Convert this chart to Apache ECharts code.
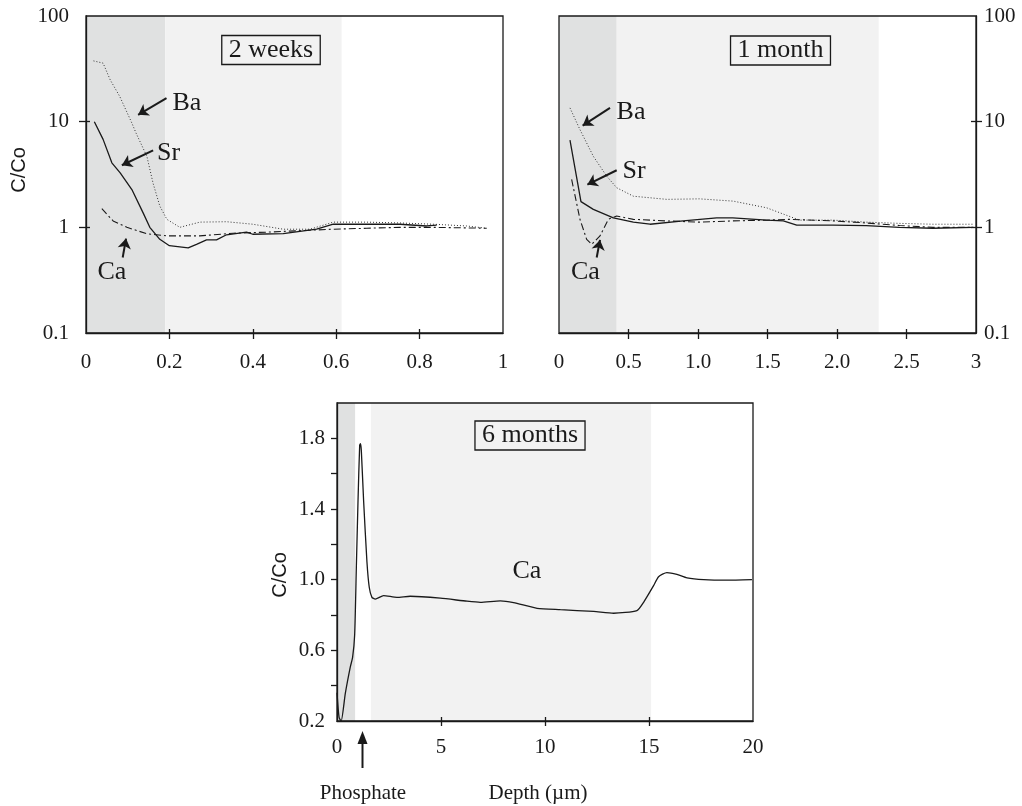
<!DOCTYPE html>
<html><head><meta charset="utf-8">
<script src="https://cdn.jsdelivr.net/npm/echarts@6/dist/echarts.min.js"></script>
<style>html,body{margin:0;padding:0;background:#fff}#c{width:1022px;height:806px}</style>
</head><body><div id="c"></div>
<script>
// ---------- data ----------
// 2 weeks (depth in µm, C/Co)
const ba2wX = [0.018,0.041,0.058,0.081,0.11,0.12,0.146,0.161,0.177,0.194,0.225,0.273,0.337,0.40,0.473,0.537,0.593,0.673,0.753,0.833,0.913,0.961];
const ba2wY = [37.6,35.8,24.9,17.3,9.7,7.8,4.7,2.6,1.59,1.19,1.0,1.12,1.13,1.07,0.96,0.96,1.12,1.12,1.1,1.07,1.03,0.98];
const sr2wX = [0.02,0.041,0.062,0.082,0.11,0.137,0.153,0.177,0.2,0.245,0.265,0.289,0.313,0.337,0.385,0.40,0.473,0.553,0.593,0.673,0.753,0.817,0.841];
const sr2wY = [10,6.8,4.08,3.28,2.28,1.37,1.0,0.77,0.67,0.64,0.69,0.76,0.76,0.85,0.9,0.86,0.87,0.96,1.07,1.07,1.07,1.03,1.05];
const ca2wX = [0.038,0.065,0.098,0.146,0.194,0.273,0.353,0.433,0.513,0.593,0.673,0.753,0.833,0.961];
const ca2wY = [1.5,1.15,1.0,0.87,0.83,0.83,0.88,0.9,0.93,0.96,0.98,1.0,1.0,0.98];
// 1 month
const ba1mX = [0.079,0.151,0.247,0.343,0.415,0.535,0.775,1.01,1.254,1.494,1.686,1.73,1.973,2.21,2.45,2.69,2.98];
const ba1mY = [13.5,8.4,4.7,3.05,2.37,1.97,1.84,1.86,1.77,1.53,1.23,1.17,1.17,1.12,1.09,1.07,1.07];
const sr1mX = [0.079,0.158,0.247,0.391,0.535,0.655,0.894,1.134,1.25,1.494,1.614,1.71,1.97,2.21,2.45,2.69,2.98];
const sr1mY = [6.7,1.75,1.48,1.23,1.12,1.07,1.15,1.23,1.23,1.17,1.15,1.05,1.05,1.04,1.0,0.98,1.0];
const ca1mX = [0.091,0.151,0.199,0.235,0.295,0.355,0.415,0.535,0.775,1.01,1.25,1.494,1.66,1.973,2.21,2.45,2.69,2.98];
const ca1mY = [2.84,1.19,0.77,0.69,0.83,1.19,1.28,1.19,1.15,1.12,1.15,1.17,1.19,1.15,1.1,1.04,1.0,1.0];
// 6 months (Ca)
const ca6mX = [0,0.1,0.2,0.4,0.64,0.75,0.85,0.93,1.01,1.09,1.13,1.17,1.28,1.44,1.55,1.68,1.84,2.24,2.88,3.52,4.97,6.25,6.89,7.85,8.49,9.62,10.74,12.34,13.3,14.42,14.74,15.22,15.46,15.86,16.34,16.83,17.63,18.75,19.95];
const ca6mY = [0.36,0.22,0.2,0.356,0.506,0.56,0.69,1.07,1.445,1.76,1.77,1.73,1.445,1.1,0.957,0.9,0.89,0.91,0.9,0.906,0.895,0.878,0.872,0.88,0.87,0.838,0.83,0.82,0.81,0.825,0.872,0.966,1.017,1.04,1.03,1.01,1.0,0.997,1.0];
// shaded zones [from, to]
const zone2wDark = [0, 0.19], zone2wLight = [0.19, 0.613];
const zone1mDark = [0, 0.415], zone1mLight = [0.415, 2.30];
const zone6mDark = [0, 0.87], zone6mLight = [1.63, 15.1];
// panel titles
const titles = ['2 weeks', '1 month', '6 months'];
// interior tick positions (no ticks at the frame corners)
const ticks2wX = [0.2, 0.4, 0.6, 0.8];
const ticks1mX = [0.5, 1.0, 1.5, 2.0, 2.5];
const ticks6mX = [5, 10, 15];
const ticksLogY = [1, 10];
const ticks6mY = [0.4, 0.6, 0.8, 1.0, 1.2, 1.4, 1.6, 1.8];

// ---------- layout / style ----------
const SERIF = '"Liberation Serif","Times New Roman",serif';
const SANS = '"Liberation Sans",Arial,sans-serif';
const INK = '#1a1a1a';
const DARK = '#e0e1e1', LIGHT = '#f2f2f2';
const FS = 21;
const G = [
  {left: 86, top: 16, width: 417, height: 317},
  {left: 559, top: 16, width: 417, height: 317},
  {left: 337, top: 403, width: 416, height: 318}
];
const pts = (xs, ys) => xs.map((x, i) => [x, ys[i]]);

function axisPair(gi, base, tickVals, outLen, inLen, margin, position) {
  const common = Object.assign({gridIndex: gi, position: position, splitLine: {show: false}, z: 10}, base);
  const main = Object.assign({}, common, {
    axisLine: {show: true, onZero: false, lineStyle: {color: INK, width: 1.3}},
    axisTick: {show: true, inside: false, length: outLen, customValues: tickVals, lineStyle: {color: INK, width: 1.3}},
    axisLabel: Object.assign({show: true, margin: margin, color: INK, fontFamily: SERIF, fontSize: FS}, base.axisLabel || {})
  });
  const res = [main];
  if (inLen > 0) {
    res.push(Object.assign({}, common, {
      axisLine: {show: false, onZero: false},
      axisTick: {show: true, inside: true, length: inLen, customValues: tickVals, lineStyle: {color: INK, width: 1.3}},
      axisLabel: {show: false}
    }));
  }
  return res;
}
const logBase = {type: 'log', logBase: 10, min: 0.1, max: 100,
  axisLabel: {formatter: v => String(+(+v).toPrecision(3))}};

const xAxes = [].concat(
  axisPair(0, {type: 'value', min: 0, max: 1, interval: 0.2,
    axisLabel: {formatter: v => String(+v.toFixed(1))}}, ticks2wX, 6, 4, 19, 'bottom'),
  axisPair(1, {type: 'value', min: 0, max: 3, interval: 0.5,
    axisLabel: {formatter: v => (v === 0 || v === 3) ? String(v) : v.toFixed(1)}}, ticks1mX, 6, 4, 19, 'bottom'),
  axisPair(2, {type: 'value', min: 0, max: 20, interval: 5,
    axisLabel: {formatter: v => String(v)}}, ticks6mX, 5, 4, 16, 'bottom')
);
// indices: grid0 -> 0,1 ; grid1 -> 2,3 ; grid2 -> 4,5
const yAxes = [].concat(
  axisPair(0, logBase, ticksLogY, 7, 4, 17, 'left'),
  axisPair(1, logBase, ticksLogY, 6, 5, 8, 'right'),
  axisPair(2, {type: 'value', min: 0.2, max: 2.0, interval: 0.2,
    axisLabel: {formatter: v => (Math.round(v * 10) % 4 === 2) ? v.toFixed(1) : ''}}, ticks6mY, 6, 0, 12, 'left')
);
// indices: grid0 -> 0,1 ; grid1 -> 2,3 ; grid2 -> 4

const DOT = {color: '#333', width: 1, type: [1, 2]};
const SOLID = {color: INK, width: 1.3, type: 'solid'};
const DASHDOT = {color: INK, width: 1.1, type: [7, 3, 2, 3]};

function zones(dark, light) {
  return {silent: true, data: [
    [{xAxis: dark[0], itemStyle: {color: DARK}}, {xAxis: dark[1]}],
    [{xAxis: light[0], itemStyle: {color: LIGHT}}, {xAxis: light[1]}]
  ]};
}
function labelPt(name, x, y) {
  return {name: name, coord: [x, y], symbol: 'circle', symbolSize: 1,
    itemStyle: {color: 'rgba(0,0,0,0)'},
    label: {show: true, position: 'inside', formatter: name, fontFamily: SERIF, fontSize: 26, color: INK}};
}
function marks(labels, arrows) {
  return {
    markPoint: {silent: true, animation: false, data: labels},
    markLine: {silent: true, animation: false, symbol: ['none', 'arrow'], symbolSize: 10,
      label: {show: false}, lineStyle: {color: INK, width: 2, type: 'solid'},
      data: arrows.map(a => [{coord: [a[0], a[1]]}, {coord: [a[2], a[3]]}])}
  };
}
function line(name, xi, yi, data, style, extra) {
  return Object.assign({type: 'line', name: name, xAxisIndex: xi, yAxisIndex: yi, data: data,
    showSymbol: false, symbol: 'none', lineStyle: style, animation: false, silent: true, z: 3}, extra || {});
}

const series = [
  line('Ba', 0, 0, pts(ba2wX, ba2wY), DOT, Object.assign({markArea: zones(zone2wDark, zone2wLight)},
    marks([labelPt('Ba', 0.242, 15.1)], [[0.193, 16.7, 0.125, 11.6]]))),
  line('Sr', 0, 0, pts(sr2wX, sr2wY), SOLID, marks([labelPt('Sr', 0.198, 5.0)], [[0.161, 5.36, 0.086, 3.87]])),
  line('Ca', 0, 0, pts(ca2wX, ca2wY), DASHDOT, marks([labelPt('Ca', 0.062, 0.38)], [[0.088, 0.518, 0.096, 0.782]])),

  line('Ba', 2, 2, pts(ba1mX, ba1mY), DOT, Object.assign({markArea: zones(zone1mDark, zone1mLight)},
    marks([labelPt('Ba', 0.518, 12.2)], [[0.367, 13.5, 0.17, 9.17]]))),
  line('Sr', 2, 2, pts(sr1mX, sr1mY), SOLID, marks([labelPt('Sr', 0.54, 3.4)], [[0.415, 3.47, 0.204, 2.54]])),
  line('Ca', 2, 2, pts(ca1mX, ca1mY), DASHDOT, marks([labelPt('Ca', 0.19, 0.374)], [[0.271, 0.518, 0.295, 0.76]])),

  line('Ca', 4, 4, pts(ca6mX, ca6mY), SOLID, Object.assign({smooth: 0.2, markArea: zones(zone6mDark, zone6mLight)},
    {markPoint: {silent: true, animation: false, data: [labelPt('Ca', 9.13, 1.05)]}}))
];

const graphic = [];
G.forEach(g => {
  graphic.push({type: 'rect', z: 100, silent: true,
    shape: {x: g.left, y: g.top, width: g.width, height: g.height},
    style: {fill: 'none', stroke: INK, lineWidth: 1.3}});
});
const boxCenters = [[271, 50], [780.5, 50.5], [530, 435.5]];
titles.forEach((t, i) => {
  graphic.push({type: 'text', z: 101, silent: true, x: boxCenters[i][0], y: boxCenters[i][1],
    style: {text: t, font: '26px ' + SERIF, fill: INK, align: 'center', verticalAlign: 'middle',
      borderColor: INK, borderWidth: 1.3, padding: [2, 7, 1, 7]}});
});
// y-axis names
[[19, 170], [280, 575]].forEach(p => {
  graphic.push({type: 'text', z: 101, silent: true, x: p[0], y: p[1], rotation: Math.PI / 2,
    style: {text: 'C/Co', font: '20px ' + SANS, fill: INK, align: 'center', verticalAlign: 'middle'}});
});
// phosphate arrow & bottom texts
graphic.push({type: 'line', z: 101, silent: true, shape: {x1: 362.5, y1: 768, x2: 362.5, y2: 740},
  style: {stroke: INK, lineWidth: 2}});
graphic.push({type: 'polygon', z: 101, silent: true, shape: {points: [[362.5, 731], [357.5, 744], [367.5, 744]]},
  style: {fill: INK}});
graphic.push({type: 'text', z: 101, silent: true, x: 363, y: 793,
  style: {text: 'Phosphate', font: '21px ' + SERIF, fill: INK, align: 'center', verticalAlign: 'middle'}});
graphic.push({type: 'text', z: 101, silent: true, x: 538, y: 793,
  style: {text: 'Depth (µm)', font: '21px ' + SERIF, fill: INK, align: 'center', verticalAlign: 'middle'}});

const chart = echarts.init(document.getElementById('c'), null, {renderer: 'canvas'});
chart.setOption({
  animation: false,
  backgroundColor: '#fff',
  grid: G.map(g => Object.assign({containLabel: false, show: false}, g)),
  xAxis: xAxes,
  yAxis: yAxes,
  series: series,
  graphic: graphic
});
</script>
</body></html>
